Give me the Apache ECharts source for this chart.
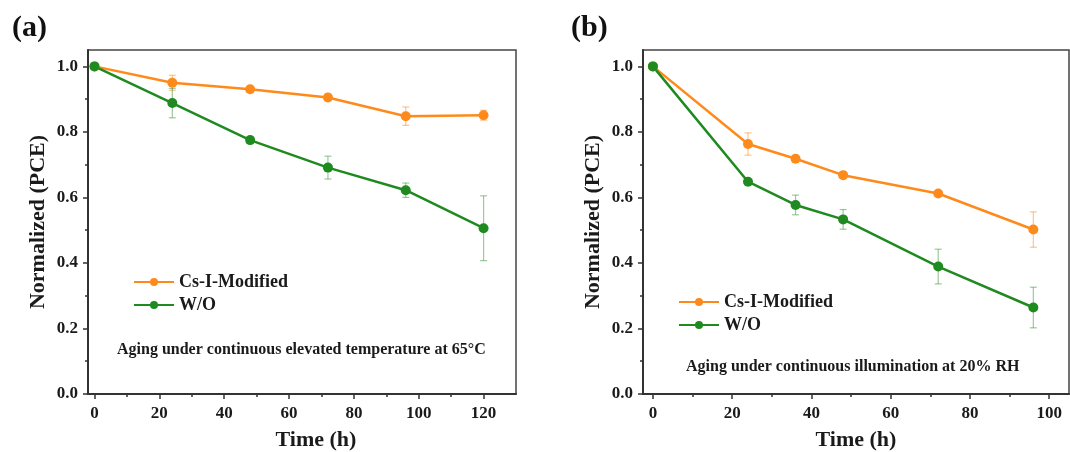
<!DOCTYPE html>
<html>
<head>
<meta charset="utf-8">
<script src="https://cdn.jsdelivr.net/npm/echarts@6/dist/echarts.min.js"></script>
<style>
  html, body { margin: 0; padding: 0; background: #fff; }
  #chart { width: 1070px; height: 452px; }
</style>
</head>
<body>
<div id="chart"></div>
<script>
// Panel (a): aging at 65 °C
const hoursA = [0, 24, 48, 72, 96, 120];
const modifiedA = [1.0, 0.950, 0.930, 0.905, 0.848, 0.851];
const modifiedErrA = [0, 0.023, 0.009, 0.010, 0.028, 0.015];
const withoutA = [1.0, 0.888, 0.775, 0.691, 0.622, 0.506];
const withoutErrA = [0, 0.045, 0.010, 0.035, 0.022, 0.099];

// Panel (b): aging under illumination at 20% RH
const hoursB = [0, 24, 36, 48, 72, 96];
const modifiedB = [1.0, 0.763, 0.718, 0.668, 0.612, 0.502];
const modifiedErrB = [0, 0.034, 0.010, 0.006, 0.006, 0.054];
const withoutB = [1.0, 0.648, 0.577, 0.533, 0.389, 0.264];
const withoutErrB = [0, 0.006, 0.030, 0.030, 0.053, 0.062];

const seriesNames = ['Cs-I-Modified', 'W/O'];
const yMajorTicks = [0, 0.2, 0.4, 0.6, 0.8, 1.0];
const yMinorTicks = [0.1, 0.3, 0.5, 0.7, 0.9];
const xMajorTicksA = [0, 20, 40, 60, 80, 100, 120];
const xMinorTicksA = [10, 30, 50, 70, 90, 110];
const xMajorTicksB = [0, 20, 40, 60, 80, 100];
const xMinorTicksB = [10, 30, 50, 70, 90];
const noteA = 'Aging under continuous elevated temperature at 65°C';
const noteB = 'Aging under continuous illumination at 20% RH';

const ORANGE = '#FF8A1C';
const GREEN = '#1F8A1F';
const ORANGE_ERR = 'rgba(255,138,28,0.5)';
const GREEN_ERR = 'rgba(31,138,31,0.45)';
const FONT = '"Liberation Serif", "Times New Roman", serif';
const INK = '#1a1a1a';

function pairs(xs, ys) { return xs.map((x, i) => [x, ys[i]]); }
function triples(xs, ys, es) { return xs.map((x, i) => [x, ys[i], es[i]]); }

function majorX(grid, min, max, ticks, nameShift) {
  return {
    type: 'value', gridIndex: grid, min: min, max: max, position: 'bottom',
    name: 'Time (h)', nameLocation: 'middle', nameGap: 35,
    nameTextStyle: { fontFamily: FONT, fontWeight: 'bold', fontSize: 22, color: INK, padding: [0, 0, 0, nameShift] },
    axisLine: { show: true, onZero: false, lineStyle: { color: '#333', width: 2 } },
    axisTick: { show: true, inside: false, length: 5, customValues: ticks, lineStyle: { color: '#333', width: 1.5 } },
    axisLabel: { show: true, margin: 11, customValues: ticks, fontFamily: FONT, fontWeight: 'bold', fontSize: 17, color: INK },
    splitLine: { show: false }
  };
}
function minorX(grid, min, max, ticks) {
  return {
    type: 'value', gridIndex: grid, min: min, max: max, position: 'bottom', offset: 0,
    axisLine: { show: false, onZero: false },
    axisTick: { show: true, inside: false, length: 3, customValues: ticks, lineStyle: { color: '#333', width: 1.5 } },
    axisLabel: { show: false }, splitLine: { show: false }
  };
}
function majorY(grid) {
  return {
    type: 'value', gridIndex: grid, min: 0, max: 1.05, position: 'left',
    name: 'Normalized (PCE)', nameLocation: 'middle', nameGap: 39,
    nameTextStyle: { fontFamily: FONT, fontWeight: 'bold', fontSize: 22, color: INK },
    axisLine: { show: true, onZero: false, lineStyle: { color: '#333', width: 2 } },
    axisTick: { show: true, length: 5, customValues: yMajorTicks, lineStyle: { color: '#333', width: 1.5 } },
    axisLabel: { show: true, margin: 10, customValues: yMajorTicks, formatter: v => v.toFixed(1),
      fontFamily: FONT, fontWeight: 'bold', fontSize: 17, color: INK },
    splitLine: { show: false }
  };
}
function minorY(grid) {
  return {
    type: 'value', gridIndex: grid, min: 0, max: 1.05, position: 'left', offset: 0,
    axisLine: { show: false, onZero: false },
    axisTick: { show: true, inside: false, length: 3, customValues: yMinorTicks, lineStyle: { color: '#333', width: 1.5 } },
    axisLabel: { show: false }, splitLine: { show: false }
  };
}

function lineSeries(name, xi, yi, data, color) {
  return {
    type: 'line', name: name, xAxisIndex: xi, yAxisIndex: yi, data: data,
    symbol: 'circle', symbolSize: 10, z: 3,
    lineStyle: { color: color, width: 2.5 },
    itemStyle: { color: color },
    emphasis: { disabled: true }
  };
}

function errorSeries(id, xi, yi, data, color) {
  return {
    type: 'custom', id: id, xAxisIndex: xi, yAxisIndex: yi, data: data, z: 2,
    silent: true, itemStyle: { color: color },
    renderItem: function (params, api) {
      const x = api.value(0), y = api.value(1), e = api.value(2);
      if (!e) return null;
      const top = api.coord([x, y + e]);
      const bot = api.coord([x, y - e]);
      const half = 3.5;
      const style = { stroke: color, lineWidth: 1.2, fill: null };
      return {
        type: 'group',
        children: [
          { type: 'line', shape: { x1: top[0], y1: top[1], x2: bot[0], y2: bot[1] }, style: style },
          { type: 'line', shape: { x1: top[0] - half, y1: top[1], x2: top[0] + half, y2: top[1] }, style: style },
          { type: 'line', shape: { x1: bot[0] - half, y1: bot[1], x2: bot[0] + half, y2: bot[1] }, style: style }
        ]
      };
    }
  };
}

function legendAt(left, top) {
  return {
    left: left, top: top, orient: 'vertical', itemGap: 5,
    itemWidth: 40, itemHeight: 10,
    data: seriesNames,
    textStyle: { fontFamily: FONT, fontWeight: 'bold', fontSize: 18, color: INK },
    selectedMode: false
  };
}

const gridBase = { top: 50, height: 344, show: true, borderColor: '#444', borderWidth: 1.5,
  backgroundColor: 'transparent', containLabel: false, outerBoundsMode: 'none' };

const chart = echarts.init(document.getElementById('chart'));
chart.setOption({
  backgroundColor: '#fff',
  animation: false,
  grid: [
    Object.assign({ left: 88, width: 428 }, gridBase),
    Object.assign({ left: 643, width: 426 }, gridBase)
  ],
  xAxis: [
    majorX(0, -2, 130, xMajorTicksA, 28),
    minorX(0, -2, 130, xMinorTicksA),
    majorX(1, -2.5, 105, xMajorTicksB, 0),
    minorX(1, -2.5, 105, xMinorTicksB)
  ],
  yAxis: [majorY(0), minorY(0), majorY(1), minorY(1)],
  legend: [legendAt(128, 268), legendAt(673, 288)],
  graphic: [
    { type: 'text', left: 12, top: 13, style: { text: '(a)', font: 'bold 30px ' + FONT, fill: '#111' } },
    { type: 'text', left: 571, top: 13, style: { text: '(b)', font: 'bold 30px ' + FONT, fill: '#111' } },
    { type: 'text', left: 117, top: 342, style: { text: noteA, font: 'bold 16px ' + FONT, fill: INK } },
    { type: 'text', left: 686, top: 359, style: { text: noteB, font: 'bold 16px ' + FONT, fill: INK } }
  ],
  series: [
    errorSeries('errModA', 0, 0, triples(hoursA, modifiedA, modifiedErrA), ORANGE_ERR),
    errorSeries('errWoA', 0, 0, triples(hoursA, withoutA, withoutErrA), GREEN_ERR),
    lineSeries('Cs-I-Modified', 0, 0, pairs(hoursA, modifiedA), ORANGE),
    lineSeries('W/O', 0, 0, pairs(hoursA, withoutA), GREEN),
    errorSeries('errModB', 2, 2, triples(hoursB, modifiedB, modifiedErrB), ORANGE_ERR),
    errorSeries('errWoB', 2, 2, triples(hoursB, withoutB, withoutErrB), GREEN_ERR),
    lineSeries('Cs-I-Modified', 2, 2, pairs(hoursB, modifiedB), ORANGE),
    lineSeries('W/O', 2, 2, pairs(hoursB, withoutB), GREEN)
  ]
});
</script>
</body>
</html>
